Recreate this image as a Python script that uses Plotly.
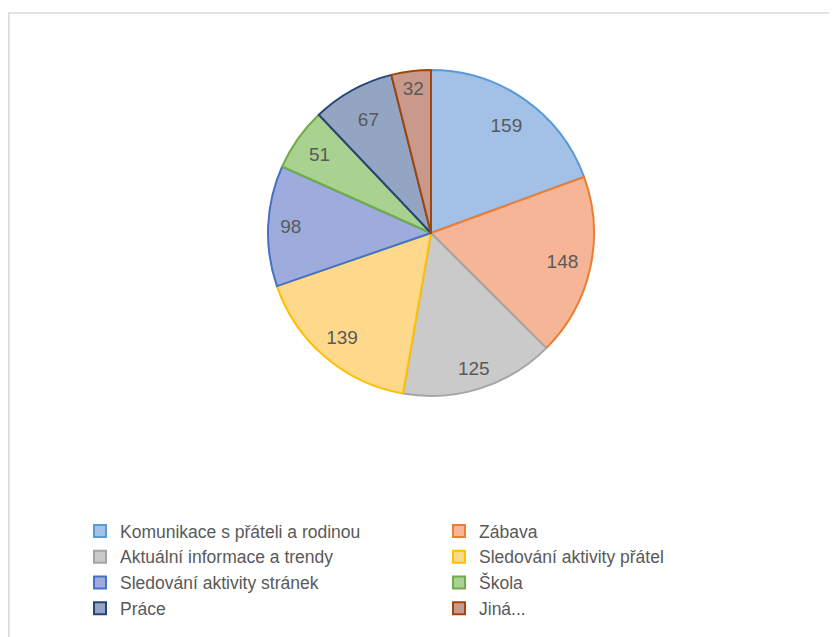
import plotly.graph_objects as go

labels = ["Komunikace s přáteli a rodinou", "Zábava", "Aktuální informace a trendy",
          "Sledování aktivity přátel", "Sledování aktivity stránek", "Škola", "Práce", "Jiná..."]
values = [159, 148, 125, 139, 98, 51, 67, 32]
fill_colors = ["#A3C1E7", "#F5B596", "#CACACA", "#FED98B", "#9EACDD", "#A9D18F", "#94A5C3", "#C9998B"]
line_colors = ["#5B9BD5", "#ED7D31", "#A5A5A5", "#FFC000", "#4472C4", "#70AD47", "#264478", "#9E480E"]

W, H = 837, 637
cx, cy, r = 423, 225, 163
# label layers: (radius of invisible text pie, which slices show their value on it)
label_layers = [
    (163, [False, False, False, False, False, True, True, True]),
    (207, [True, True, True, True, False, False, False, False]),
    (192, [False, False, False, False, True, False, False, False]),
]


def dom(rad):
    return dict(x=[(cx - rad) / W, (cx + rad) / W], y=[(H - cy - rad) / H, (H - cy + rad) / H])


fig = go.Figure()
fig.add_trace(go.Pie(
    labels=labels, values=values, sort=False, direction="clockwise", rotation=0,
    marker=dict(colors=fill_colors, line=dict(color=line_colors, width=2)),
    textinfo="none", domain=dom(r), hoverinfo="label+value",
))
for rad, show in label_layers:
    fig.add_trace(go.Pie(
        labels=labels, values=values, sort=False, direction="clockwise", rotation=0,
        marker=dict(colors=["rgba(0,0,0,0)"] * len(values), line=dict(width=0)),
        textinfo="value", textposition=["inside" if s else "none" for s in show],
        insidetextorientation="horizontal",
        textfont=dict(size=19, color="#595959", family="Liberation Sans"),
        domain=dom(rad), hoverinfo="skip", showlegend=False,
    ))

fig.update_layout(
    width=W, height=H, margin=dict(l=0, r=0, t=0, b=0, autoexpand=False),
    paper_bgcolor="white", plot_bgcolor="white",
    font=dict(family="Liberation Sans", color="#595959"),
    legend=dict(orientation="h", x=72 / W, xanchor="left", y=1 - 505 / H, yanchor="top",
                entrywidth=314, entrywidthmode="pixels", traceorder="normal",
                font=dict(size=17.5, color="#595959", family="Liberation Sans"),
                itemclick=False, itemdoubleclick=False),
    shapes=[dict(type="rect", xref="paper", yref="paper", x0=0.8 / W, x1=1.2, y0=-0.2, y1=1 - 5 / H,
                 line=dict(color="#D9D9D9", width=1.5), fillcolor="rgba(0,0,0,0)", layer="below")],
)

fig.write_html("out.html")
